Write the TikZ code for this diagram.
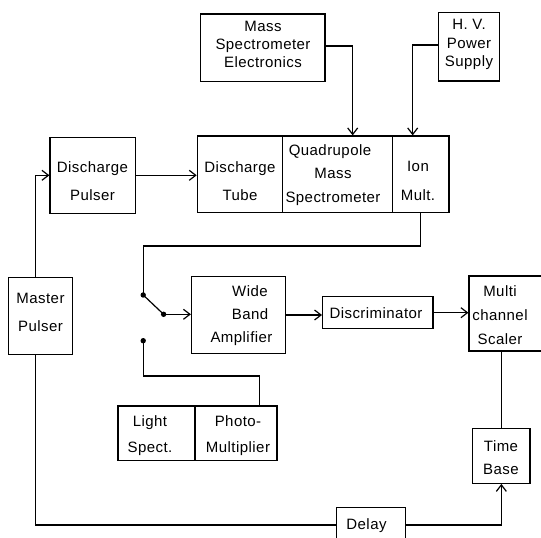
\documentclass[tikz,border=0pt]{standalone}
\usepackage{fontspec}
\setmainfont[LetterSpace=3]{Liberation Sans}
\usetikzlibrary{arrows.meta}
\tikzset{
  blk/.style={draw, line width=1.2pt, inner sep=0pt, rectangle},
  txt/.style={inner sep=0pt, align=center, font=\fontsize{15}{15}\selectfont},
  arr/.style={-{Straight Barb[length=6.5pt,width=10pt,line width=1.2pt]}},
  wire/.style={line width=1.2pt},
}
\begin{document}
\begin{tikzpicture}[x=1pt,y=-1pt]
\useasboundingbox (0,0) rectangle (541,538);
% boxes
\node[blk, minimum width=124.3pt, minimum height=67.7pt] (mse) at (262.85,47.85) {};
\node[blk, minimum width=61pt, minimum height=68.3pt] (hv) at (468.8,46.85) {};
\node[blk, minimum width=85.7pt, minimum height=76pt] (dp) at (92.85,175.3) {};
\node[blk, minimum width=85.4pt, minimum height=76.7pt] (dt) at (240,174.35) {};
\node[blk, minimum width=110pt, minimum height=76.7pt] (qms) at (337.7,174.35) {};
\node[blk, minimum width=56.3pt, minimum height=76.7pt] (im) at (420.85,174.35) {};
\node[blk, minimum width=63.9pt, minimum height=77pt] (mp) at (40.55,315.8) {};
\node[blk, minimum width=94.2pt, minimum height=76.6pt] (wba) at (238.6,315) {};
\node[blk, minimum width=110.4pt, minimum height=32pt] (disc) at (377.8,312.7) {};
\node[blk, minimum width=79pt, minimum height=75pt] (mcs) at (508.5,313.5) {};
\node[blk, minimum width=77pt, minimum height=54.7pt] (ls) at (156.5,433.35) {};
\node[blk, minimum width=82pt, minimum height=54.7pt] (pm) at (236,433.35) {};
\node[blk, minimum width=57.3pt, minimum height=55pt] (tb) at (501.35,455.8) {};
\node[blk, minimum width=69.1pt, minimum height=35.4pt] (delay) at (370.95,525) {};
% texts
\node[txt] (mseT) at (263,44.4) {Mass\\[3.3pt]Spectrometer\\[3.3pt]Electronics};
\node[txt] (hvT) at (469,44.4) {H. V.\\[3.3pt]Power\\[3.3pt]Supply};
\node[txt] (dpT) at (92.5,180.85) {Discharge\\[13.3pt]Pulser};
\node[txt] (dtT) at (240,180.85) {Discharge\\[13.3pt]Tube};
\node[txt] (qmsT) at (333,175) {Quadrupole\hspace*{6pt}\\[8.3pt]Mass\hspace*{10pt}\\[8.3pt]Spectrometer};
\node[txt] (imT) at (418,180.85) {Ion\\[13.3pt]Mult.};
\node[txt] (mpT) at (40.5,312.5) {Master\\[13.4pt]Pulser};
\node[txt] (wbaT) at (241.5,315.85) {\hspace*{17pt}Wide\\[8.2pt]\hspace*{17pt}Band\\[8.2pt]Amplifier};
\node[txt] (discT) at (376,313.5) {Discriminator};
\node[txt] (mcsT) at (500,315) {Multi\\[8.7pt]channel\\[8.7pt]Scaler};
\node[txt] (lsT) at (150,435.85) {Light\\[11.3pt]Spect.};
\node[txt] (pmT) at (238,435.85) {Photo-\\[11.3pt]Multiplier};
\node[txt] (tbT) at (501,457.65) {Time\\[8.3pt]Base};
\node[txt] (delayT) at (366.5,526) {Delay};
% switch points
\coordinate (sw1) at (143.2,295);
\coordinate (sw2) at (163.6,314.3);
\coordinate (sw3) at (143.2,340.7);
% connectors
\draw[wire,arr] ([yshift=1.85pt]mse.east) -| ([xshift=15pt]qms.north);
\draw[wire,arr] ([yshift=1.85pt]hv.west) -| ([xshift=-8.15pt]im.north);
\draw[wire,arr] (dp.east) -- (dp.east -| dt.west);
\draw[wire,arr] ([xshift=-5pt]mp.north) |- (dp.west);
\draw[wire] (im.south) |- ([yshift=49pt]sw1) -- (sw1);
\draw[wire] (sw1) -- (sw2);
\draw[wire,arr] (sw2) -- (sw2 -| wba.west);
\draw[wire,arr] (wba.east) -- (wba.east -| disc.west);
\draw[wire,arr] (disc.east) -- (disc.east -| mcs.west);
\draw[wire] (sw3) -- ([yshift=-35.3pt]sw3) -| ([xshift=23.5pt]pm.north);
\draw[wire] (tb.north |- mcs.south) -- (tb.north);
\draw[wire,arr] (delay.east) -| (tb.south);
\draw[wire] ([xshift=-5pt]mp.south) |- (delay.west);
\fill (sw1) circle (2.7pt);
\fill (sw2) circle (2.7pt);
\fill (sw3) circle (2.7pt);
\end{tikzpicture}
\end{document}
